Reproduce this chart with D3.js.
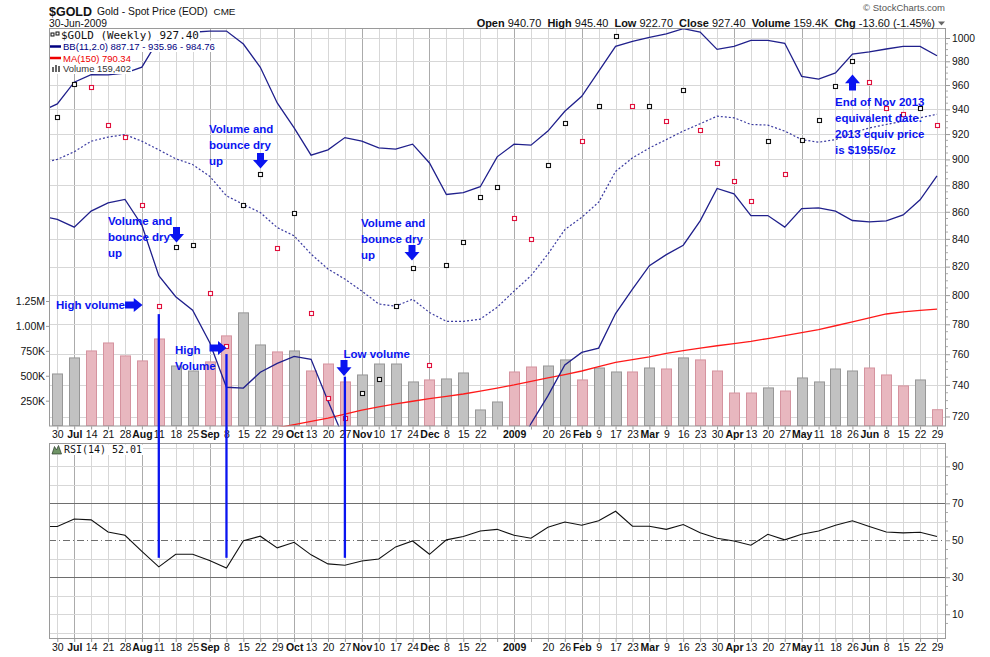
<!DOCTYPE html>
<html><head><meta charset="utf-8">
<script src="https://cdn.jsdelivr.net/npm/d3@7/dist/d3.min.js"></script>
<style>
html,body{margin:0;padding:0;background:#fff;}
svg{display:block;font-family:"Liberation Sans",Arial,Helvetica,sans-serif;}
</style></head><body>
<svg id="chart" width="990" height="657"></svg>
<script>
// ---------------- data ----------------
const weekLabels = ["30","Jul","14","21","28","Aug","11","18","25","Sep","8","15","22","29","Oct","13","20","27","Nov","10","17","24","Dec","8","15","22","","2009","","20","26","Feb","9","17","23","Mar","9","16","23","30","Apr","13","20","27","May","11","18","26","Jun","8","15","22","29"];
const closes = [933.8,960.9,958,927,917.6,865.4,792.6,834.2,835.4,801.8,765.2,865.4,888.8,833.5,859.4,788,731.4,719,735,743.6,792.3,818.7,752.6,820.9,837.6,871,879,855.5,840,895.6,928.7,914.3,942.6,1001.7,942.3,942.9,930.3,955.6,923,897.2,883,867.8,914.3,888.8,915.2,931,958.9,980,962.4,941,935.8,941,927.4];
const volumes = [518000,679000,749000,829000,699000,649000,869000,598000,548000,639000,900000,1131000,809000,739000,749000,548000,618000,438000,508000,618000,618000,438000,458000,468000,528000,157000,237000,538000,588000,598000,659000,458000,578000,538000,538000,578000,568000,679000,659000,548000,327000,327000,378000,347000,478000,438000,568000,548000,578000,508000,398000,458000,159402];
const ma150 = [null,null,null,null,null,null,null,null,null,null,null,null,711,713,715,717,719,721.5,724,726,728,729.6,731.2,732.7,734.2,736,738,740,742.3,744.5,746.7,749,751.8,754.6,756.5,758.2,760.5,762.4,764,765.6,767,768.5,770.4,772.3,774.3,776.4,779,781.6,784.3,787,788.4,789.5,790.34];
// indicator series start one week earlier (week of 23-Jun-2008)
const bbUpper = [938,944.4,962.4,968.7,968.5,970,975,999,1003,1005,1006,1006,994.8,974.9,945.2,924.9,903.3,907.5,917.2,914.3,909,908,912,897.2,873,874.4,878.9,902,912,911.2,922.4,938.4,950.7,971.5,992.8,997.1,1000.6,1003.5,1008.1,1005.2,990.2,992.8,998,998,995.4,967.3,965,970.1,986.2,988,990.5,992.8,992.8,984.76];
const bbMiddle = [897,900,906,914.3,917.6,919.6,914.3,907.5,900.5,896,887,872,865.5,859.4,848.3,842.2,829,818.3,811.2,802.8,793.9,792.3,797.2,788,782,782,783.5,791.6,802.8,813.6,829,846.8,855.9,867.2,890.6,901.2,909,915.6,922.4,928.3,934.4,933.1,927.7,927.2,922.4,915.6,913.5,915.6,921,924.9,927.7,930.3,933.1,935.96];
const bbLower = [857,854.4,848.6,860.5,866.7,869.3,850,813.6,798.9,789.6,767.9,738.5,738,748.2,754,758.6,756.6,729.8,705,691,679,677,682,679,691,690,688,681,694,715.6,733,753,761.2,764,787.3,804.1,820.7,828.6,835.4,853.2,877.6,873.5,857.2,857.2,848.6,862.4,862.9,860.5,853.5,852.5,853.2,857.7,869,887.17];
const rsi14 = [57.4,57.4,61.5,61,54.5,52.7,44,35.6,42.4,42.4,39,35,49.8,52.2,45.9,48.9,42.1,37.2,36.5,38.8,39.9,46.4,49.6,42.4,50.2,52,55,55.9,52.7,51.1,57,59.9,58.1,60.5,65.7,57.6,57.6,55.9,58.5,54.1,51.1,49.6,47.3,53.2,50.2,53.2,55,58.1,60.5,57.4,54.5,54,54.3,52.01];
const priceTicks = [720,740,760,780,800,820,840,860,880,900,920,940,960,980,1000];
const volumeTicks = [250000,500000,750000,1000000,1250000];
const rsiTicks = [10,30,50,70,90];
const rsiGrid = [0,10,20,40,60,80,90,100];
const lastBar = {open:"940.70", high:"945.40", low:"922.70", close:"927.40", volume:"159.4K", chg:"-13.60 (-1.45%)"};
const markedWeeks = [{week:6, fromPrice:786.9}, {week:10, fromPrice:760.1}, {week:17, fromPrice:745.3}];
const markEndRsi = 40.5;

// ---------------- layout ----------------
const W = 990, H = 657;
const L = 49, R = 946, T = 28, MB = 426.5, RT = 443, RB = 639;
const MONO = '"DejaVu Sans Mono", "Liberation Mono", monospace';
const svg = d3.select("#chart");
svg.append("rect").attr("width", W).attr("height", H).attr("fill", "#fff");
function fit(sel, w) {
  const cur = sel.node().getComputedTextLength();
  if (cur > 0) sel.attr("font-size", (+sel.attr("font-size")) * w / cur);
  return sel;
}

const weeks = d3.range(closes.length);
const x = d3.scaleLinear().domain([0, 52]).range([57.3, 937]);
const xk = k => x(k - 1);
const yP = d3.scaleLog().domain([720, 1000]).range([416.5, 38]);
const yV = d3.scaleLinear().domain([0, 1250000]).range([425.6, 301]);
const yR = d3.scaleLinear().domain([0, 100]).range([632.7, 447.8]);
const isMajor = l => l !== "" && (isNaN(+l) || l.length === 4);
const up = closes.map((c, i) => i === 0 ? true : c >= closes[i - 1]);

const defs = svg.append("defs");
defs.append("clipPath").attr("id", "cm").append("rect").attr("x", L).attr("y", T).attr("width", R - L).attr("height", MB - T);
defs.append("clipPath").attr("id", "cr").append("rect").attr("x", L).attr("y", RT).attr("width", R - L).attr("height", RB - RT);

// ---------------- main panel ----------------
const gm = svg.append("g");
gm.selectAll("line.vg").data(weeks).join("line")
  .attr("x1", i => Math.round(x(i)) + 0.5).attr("x2", i => Math.round(x(i)) + 0.5)
  .attr("y1", T).attr("y2", MB)
  .attr("stroke", i => isMajor(weekLabels[i]) ? "#ababab" : "#d7d7d7");
gm.selectAll("line.hg").data(priceTicks).join("line")
  .attr("x1", L).attr("x2", R)
  .attr("y1", d => Math.round(yP(d)) + 0.5).attr("y2", d => Math.round(yP(d)) + 0.5)
  .attr("stroke", "#d7d7d7");

const clipM = gm.append("g").attr("clip-path", "url(#cm)");
clipM.selectAll("rect.vol").data(weeks).join("rect")
  .attr("x", i => Math.round(x(i)) - 4.5).attr("width", 10)
  .attr("y", i => yV(volumes[i])).attr("height", i => yV(0) - yV(volumes[i]))
  .attr("fill", i => up[i] ? "#c2c2c2" : "#e8b7bf")
  .attr("stroke", i => up[i] ? "#979797" : "#d5939f").attr("stroke-width", 1);

clipM.append("path").datum(ma150)
  .attr("d", d3.line().defined(d => d != null).x((d, i) => x(i)).y(d => yP(d)))
  .attr("fill", "none").attr("stroke", "#ff1a1a").attr("stroke-width", 1.3);

const lineK = d3.line().x((d, k) => xk(k)).y(d => yP(d));
clipM.append("path").datum(bbUpper).attr("d", lineK).attr("fill", "none").attr("stroke", "#20208c").attr("stroke-width", 1.3);
clipM.append("path").datum(bbLower).attr("d", lineK).attr("fill", "none").attr("stroke", "#20208c").attr("stroke-width", 1.3);
clipM.append("path").datum(bbMiddle).attr("d", lineK).attr("fill", "none").attr("stroke", "#3a3aa0").attr("stroke-width", 1.2).attr("stroke-dasharray", "2,2");

clipM.selectAll("rect.pt").data(weeks).join("rect")
  .attr("x", i => Math.round(x(i)) - 1.5).attr("y", i => Math.round(yP(closes[i])) - 1.5)
  .attr("width", 4).attr("height", 4).attr("fill", "#fff")
  .attr("stroke", i => up[i] ? "#111" : "#e0103c").attr("stroke-width", 1.1);

gm.append("rect").attr("x", L + 0.5).attr("y", T + 0.5).attr("width", R - L - 1).attr("height", MB - T - 1)
  .attr("fill", "none").attr("stroke", "#9a9a9a");

// right price axis
const ax = gm.append("g").attr("transform", `translate(${R},0)`)
  .call(d3.axisRight(yP).tickValues(priceTicks).tickFormat(d3.format("d")).tickSize(4).tickPadding(2));
ax.select(".domain").remove();
ax.selectAll("text").attr("font-size", 10.3).attr("fill", "#111").style("font-family", '"Liberation Sans", Arial');
ax.selectAll("line").attr("stroke", "#999");
gm.selectAll("line.minor").data(d3.range(725, 1000, 5).filter(v => v % 20 !== 0)).join("line")
  .attr("x1", R).attr("x2", R + 2).attr("y1", d => yP(d)).attr("y2", d => yP(d)).attr("stroke", "#aaa");

// left volume axis
const av = gm.append("g").attr("transform", `translate(${L},0)`)
  .call(d3.axisLeft(yV).tickValues(volumeTicks).tickFormat(d => d >= 1e6 ? (d / 1e6).toFixed(2) + "M" : (d / 1e3) + "K").tickSize(3).tickPadding(1));
av.select(".domain").remove();
av.selectAll("text").attr("font-size", 10.5).attr("fill", "#111").style("font-family", '"Liberation Sans", Arial');
av.selectAll("line").attr("stroke", "#999");

// ---------------- legend ----------------
const lg = svg.append("g");
const lgBg = lg.append("g");
const l1 = fit(lg.append("text").attr("x", 61).attr("y", 38.5).style("font-family", MONO).attr("font-size", 10.4).attr("fill", "#111").text("$GOLD (Weekly) 927.40"), 138);
const l2 = fit(lg.append("text").attr("x", 63).attr("y", 50).attr("font-size", 9.6).attr("fill", "#000080").text("BB(11,2.0) 887.17 - 935.96 - 984.76"), 152);
const l3 = fit(lg.append("text").attr("x", 63).attr("y", 61.5).attr("font-size", 9.6).attr("fill", "#ee0000").text("MA(150) 790.34"), 68);
const l4 = fit(lg.append("text").attr("x", 63).attr("y", 71.8).attr("font-size", 9.6).attr("fill", "#333").text("Volume 159,402"), 68);
[[l1, 29, 11.5], [l2, 40.5, 11.5], [l3, 52, 11], [l4, 63, 11]].forEach(([t, y, h]) => {
  const b = t.node().getBBox();
  lgBg.append("rect").attr("x", L + 1).attr("y", y).attr("width", b.x + b.width + 1 - L - 1).attr("height", h).attr("fill", "#fff");
});
lg.append("rect").attr("x", 51).attr("y", 33).attr("width", 3).attr("height", 3).attr("fill", "none").attr("stroke", "#111").attr("stroke-width", 1);
lg.append("rect").attr("x", 56).attr("y", 32).attr("width", 3).attr("height", 3).attr("fill", "none").attr("stroke", "#111").attr("stroke-width", 1);
lg.append("line").attr("x1", 50).attr("x2", 61).attr("y1", 46.5).attr("y2", 46.5).attr("stroke", "#000080").attr("stroke-width", 2.5);
lg.append("line").attr("x1", 50).attr("x2", 61).attr("y1", 58).attr("y2", 58).attr("stroke", "#ee0000").attr("stroke-width", 2.5);
[[52, 67], [55, 65], [58, 66]].forEach(([bx, by]) => lg.append("rect").attr("x", bx).attr("y", by).attr("width", 2).attr("height", 72 - by).attr("fill", "#666"));

// ---------------- x-axis labels ----------------
function xLabels(yBase) {
  const a = svg.append("g").attr("transform", `translate(0,${yBase})`)
    .call(d3.axisBottom(x).tickValues(weeks).tickFormat(i => weekLabels[i]).tickSize(3).tickPadding(1.5));
  a.select(".domain").remove();
  a.selectAll("line").attr("stroke", "#999");
  a.selectAll("text").attr("font-size", 10.5).attr("fill", "#111")
    .style("font-family", '"Liberation Sans", Arial')
    .attr("font-weight", i => isMajor(weekLabels[i]) ? "bold" : "normal");
  return a;
}
xLabels(MB);

// ---------------- RSI panel ----------------
const gr = svg.append("g");
gr.selectAll("line.vg").data(weeks).join("line")
  .attr("x1", i => Math.round(x(i)) + 0.5).attr("x2", i => Math.round(x(i)) + 0.5)
  .attr("y1", RT).attr("y2", RB)
  .attr("stroke", i => isMajor(weekLabels[i]) ? "#ababab" : "#d7d7d7");
gr.selectAll("line.hg").data(rsiGrid).join("line")
  .attr("x1", L).attr("x2", R).attr("y1", d => Math.round(yR(d)) + 0.5).attr("y2", d => Math.round(yR(d)) + 0.5)
  .attr("stroke", "#d7d7d7");
gr.selectAll("line.lvl").data([30, 70]).join("line")
  .attr("x1", L).attr("x2", R).attr("y1", d => Math.round(yR(d)) + 0.5).attr("y2", d => Math.round(yR(d)) + 0.5)
  .attr("stroke", "#6e6e6e").attr("stroke-width", 1.2);
gr.append("line").attr("x1", L).attr("x2", R).attr("y1", Math.round(yR(50)) + 0.5).attr("y2", Math.round(yR(50)) + 0.5)
  .attr("stroke", "#6e6e6e").attr("stroke-dasharray", "7,3,1,3");
gr.append("g").attr("clip-path", "url(#cr)").append("path").datum(rsi14)
  .attr("d", d3.line().x((d, k) => xk(k)).y(d => yR(d)))
  .attr("fill", "none").attr("stroke", "#111").attr("stroke-width", 1.1);
gr.append("rect").attr("x", L + 0.5).attr("y", RT + 0.5).attr("width", R - L - 1).attr("height", RB - RT - 1)
  .attr("fill", "none").attr("stroke", "#9a9a9a");
const arr = gr.append("g").attr("transform", `translate(${R},0)`)
  .call(d3.axisRight(yR).tickValues(rsiTicks).tickSize(4).tickPadding(2));
arr.select(".domain").remove();
arr.selectAll("text").attr("font-size", 10.3).attr("fill", "#111").style("font-family", '"Liberation Sans", Arial');
arr.selectAll("line").attr("stroke", "#999");
gr.selectAll("line.minor").data([5, 15, 20, 25, 35, 40, 45, 55, 60, 65, 75, 80, 85, 95]).join("line")
  .attr("x1", R).attr("x2", R + 2).attr("y1", d => yR(d)).attr("y2", d => yR(d)).attr("stroke", "#aaa");
// RSI legend
const rlBg = gr.append("rect");
const rl = fit(gr.append("text").attr("x", 64).attr("y", 452.5).style("font-family", MONO).attr("font-size", 10.2).attr("fill", "#111").text("RSI(14) 52.01"), 78);
const rb = rl.node().getBBox();
rlBg.attr("x", 50).attr("y", 444.5).attr("width", rb.x + rb.width + 1 - 50).attr("height", 10.5).attr("fill", "#fff");
gr.append("path").attr("d", "M52,454 L54.5,446.5 L56.5,450 L58.5,445.5 L61.5,454 Z").attr("fill", "#6f9466").attr("stroke", "#2a3a2a").attr("stroke-width", 0.7);

xLabels(RB);

// ---------------- header ----------------
fit(svg.append("text").attr("x", 49).attr("y", 15.5).attr("font-size", 14).attr("font-weight", "bold").attr("fill", "#111").text("$GOLD"), 43);
fit(svg.append("text").attr("x", 97).attr("y", 15).attr("font-size", 11).attr("fill", "#111").text("Gold - Spot Price (EOD)"), 111);
fit(svg.append("text").attr("x", 213.5).attr("y", 15).attr("font-size", 10).attr("fill", "#111").text("CME"), 22);
fit(svg.append("text").attr("x", 49).attr("y", 26.5).attr("font-size", 11).attr("fill", "#111").text("30-Jun-2009"), 58);
svg.append("text").attr("x", 945).attr("y", 11).attr("text-anchor", "end").attr("font-size", 9.5).attr("fill", "#555").text("© StockCharts.com");
const hd = svg.append("text").attr("x", 935).attr("y", 26.5).attr("text-anchor", "end").attr("font-size", 11).attr("fill", "#111").style("white-space", "pre");
[["Open", 1], [" " + lastBar.open + "  ", 0], ["High", 1], [" " + lastBar.high + "  ", 0], ["Low", 1], [" " + lastBar.low + "  ", 0],
 ["Close", 1], [" " + lastBar.close + "  ", 0], ["Volume", 1], [" " + lastBar.volume + "  ", 0], ["Chg", 1], [" " + lastBar.chg, 0]]
  .forEach(([t, b]) => hd.append("tspan").attr("font-weight", b ? "bold" : "normal").text(t));
fit(hd, 459);
svg.append("path").attr("d", "M938,21.5 L945,21.5 L941.5,25.5 Z").attr("fill", "#666");

// ---------------- annotations ----------------
const blue = "#0a14f0";
const notes = [
  {lines: ["Volume and", "bounce dry", "up"], x: 209, y: 133},
  {lines: ["Volume and", "bounce dry", "up"], x: 108, y: 224.5},
  {lines: ["Volume and", "bounce dry", "up"], x: 361, y: 227},
  {lines: ["High volume"], x: 56, y: 309},
  {lines: ["High", "Volume"], x: 175, y: 353.5},
  {lines: ["Low volume"], x: 343.5, y: 357.5},
  {lines: ["End of Nov 2013", "equivalent date.", "2013 equiv price", "is $1955/oz"], x: 835, y: 105.5}
];
const ga = svg.append("g");
notes.forEach(n => n.lines.forEach((t, j) => ga.append("text").attr("x", n.x).attr("y", n.y + j * 16)
  .attr("font-size", 11.5).attr("font-weight", "bold").attr("fill", blue).text(t)));
function downArrow(cx, y0, y1) {
  const hw = 7.5, sw = 3.5, hy = y0 + (y1 - y0) * 0.45;
  return `M${cx - sw},${y0} L${cx + sw},${y0} L${cx + sw},${hy} L${cx + hw},${hy} L${cx},${y1} L${cx - hw},${hy} L${cx - sw},${hy} Z`;
}
function upArrow(cx, y0, y1) {
  const hw = 7.5, sw = 3.5, hy = y0 + (y1 - y0) * 0.55;
  return `M${cx - sw},${y1} L${cx + sw},${y1} L${cx + sw},${hy} L${cx + hw},${hy} L${cx},${y0} L${cx - hw},${hy} L${cx - sw},${hy} Z`;
}
function rightArrow(x0, x1, cy) {
  const hh = 7, sh = 3.5, hx = x0 + (x1 - x0) * 0.5;
  return `M${x0},${cy - sh} L${hx},${cy - sh} L${hx},${cy - hh} L${x1},${cy} L${hx},${cy + hh} L${hx},${cy + sh} L${x0},${cy + sh} Z`;
}
[downArrow(260.5, 153, 168.5), downArrow(176.5, 227, 242.5), downArrow(412, 245, 260.5), downArrow(344, 360, 376),
 upArrow(852.5, 74.5, 90.5), rightArrow(125, 142.5, 305), rightArrow(209.5, 226.5, 348)]
  .forEach(d => ga.append("path").attr("d", d).attr("fill", blue));
ga.selectAll("line.mark").data(markedWeeks).join("line")
  .attr("x1", d => x(d.week)).attr("x2", d => x(d.week))
  .attr("y1", d => yP(d.fromPrice)).attr("y2", yR(markEndRsi))
  .attr("stroke", blue).attr("stroke-width", 2.3);
</script>
</body></html>
